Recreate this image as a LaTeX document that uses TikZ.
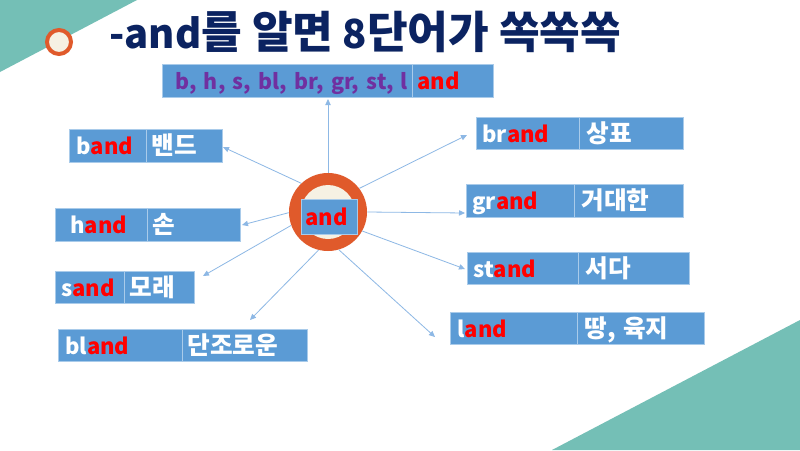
\documentclass[tikz,border=0pt]{standalone}
\usepackage{fontspec}
\setmainfont{Noto Sans CJK KR}
\newfontfamily\krfont{Noto Sans CJK KR}[Scale=1.12]
\usetikzlibrary{arrows.meta}
\definecolor{teal1}{HTML}{74BFB6}
\definecolor{orng}{HTML}{E05A2B}
\definecolor{cream}{HTML}{F6F1E3}
\definecolor{navy}{HTML}{0B2361}
\definecolor{boxblue}{HTML}{5B9BD5}
\definecolor{boxline}{HTML}{A9CBEA}
\definecolor{arr}{HTML}{8DB8E5}
\definecolor{purp}{HTML}{7030A0}
\definecolor{redd}{HTML}{FF0000}
\newcommand\cellbox[7]{% name, x1, y1, x2, y2, pad, text
  \node[cell, anchor=west, inner xsep={#6*0.75pt},
        text width={(#4-#2-2*#6)*0.75pt},
        minimum height={(#5-#3)*0.75pt}] (#1) at (#2,{(#3+#5)/2}) {#7};}
\newcommand\rd[1]{\textcolor{redd}{#1}}
\newcommand\kr[1]{{\krfont #1}}
\begin{document}
\begin{tikzpicture}[x=0.75pt,y=-0.75pt,
  cell/.style={rectangle, fill=boxblue, draw=boxline, line width=0.6pt, inner ysep=0pt,
    align=left, text=white, font=\bfseries\fontsize{16.5pt}{18pt}\selectfont,
    text height=16pt, text depth=2.5pt},
  conn/.style={draw=arr, line width=0.6pt, -{Triangle[length=4.5pt,width=4pt]}}]
\useasboundingbox (0,0) rectangle (800,450);
\fill[white] (0,0) rectangle (800,450);
% background triangles
\fill[teal1] (0,0) -- (137,0) -- (0,72) -- cycle;
\fill[teal1] (552,450) -- (800,320) -- (800,450) -- cycle;
% title bullet
\draw[orng, fill=cream, line width=3pt] (59,42) circle[radius=12];
% title
\node[anchor=base west, inner sep=0pt, text=navy, font=\bfseries\fontsize{30pt}{34pt}\selectfont] (title) at (109,48)
  {-and{\fontsize{29.6pt}{34pt}\krfont 를 알면} 8{\fontsize{29.6pt}{34pt}\krfont 단어가 쏙쏙쏙}};
% top box
\cellbox{topa}{162}{64}{412}{97}{13}{\mbox{\fontsize{16pt}{18pt}\selectfont\textcolor{purp}{b, h, s, bl, br, gr, st, l}}}
\cellbox{topb}{412}{64}{493}{97}{5}{\rd{and}}
% center
\node[circle, fill=orng, minimum size={78*0.75pt}, inner sep=0pt] (c) at (328,212) {};
\node[circle, fill=cream, minimum size={54*0.75pt}, inner sep=0pt] (ci) at (328,212) {};
\cellbox{cand}{301}{199}{357}{234}{4}{\rd{and}}
% left boxes
\cellbox{banda}{69}{129}{146}{162}{7}{b\rd{and}}
\cellbox{bandb}{146}{129}{222}{162}{5}{\kr{밴드}}
\cellbox{handa}{55}{208}{147}{241}{15}{h\rd{and}}
\cellbox{handb}{147}{208}{240}{241}{5}{\kr{손}}
\cellbox{sanda}{55}{271}{124}{303}{6}{s\rd{and}}
\cellbox{sandb}{124}{271}{194}{303}{5}{\kr{모래}}
\cellbox{blanda}{58}{329}{182}{361}{7}{bl\rd{and}}
\cellbox{blandb}{182}{329}{307}{361}{5}{\kr{단조로운}}
% right boxes
\cellbox{branda}{476}{117}{579}{149}{6}{br\rd{and}}
\cellbox{brandb}{579}{117}{683}{149}{7}{\kr{상표}}
\cellbox{granda}{466}{184}{574}{217}{6}{gr\rd{and}}
\cellbox{grandb}{574}{184}{683}{217}{7}{\kr{거대한}}
\cellbox{standa}{467}{252}{578}{284}{6}{st\rd{and}}
\cellbox{standb}{578}{252}{689}{284}{7}{\kr{서다}}
\cellbox{landa}{450}{312}{577}{344}{7}{l\rd{and}}
\cellbox{landb}{577}{312}{704}{344}{7}{\kr{땅, 육지}}
% arrow end points
\coordinate (eTop) at (328,99);
\coordinate (eBand) at (223,147);
\coordinate (eHand) at (242,225);
\coordinate (eSand) at (203,276);
\coordinate (eBland) at (250,320);
\coordinate (eBrand) at (467,135);
\coordinate (eGrand) at (465,213);
\coordinate (eStand) at (465,269);
\coordinate (eLand) at (435,337);
% connectors
\draw[conn] (c.90) -- (eTop);
\draw[conn] (c.133) -- (eBand);
\draw[conn] (c.181) -- (eHand);
\draw[conn] (c.200) -- (eSand);
\draw[conn] (c.256) -- (eBland);
\draw[conn] (c.37) -- (eBrand);
\draw[conn] (c.0) -- (eGrand);
\draw[conn] (c.-29) -- (eStand);
\draw[conn] (c.-74) -- (eLand);
\end{tikzpicture}
\end{document}
